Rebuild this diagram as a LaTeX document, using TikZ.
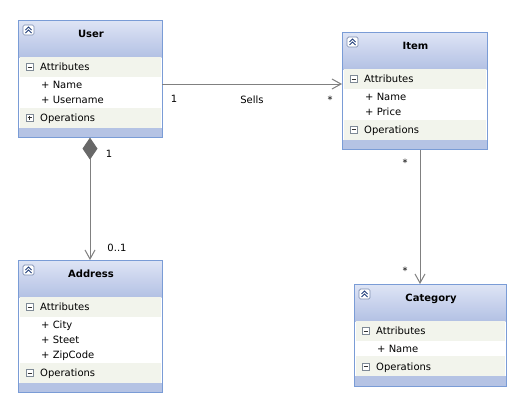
\documentclass[tikz,border=0pt]{standalone}
\usepackage{fontspec}
\setmainfont{DejaVu Sans}
\usetikzlibrary{arrows.meta,calc}
\definecolor{bord}{HTML}{7A9CD6}
\definecolor{hdtop}{HTML}{DEE4F5}
\definecolor{hdbot}{HTML}{B3C1E4}
\definecolor{band}{HTML}{F2F4EC}
\definecolor{foot}{HTML}{B5C3E4}
\definecolor{conn}{HTML}{808080}
\definecolor{diam}{HTML}{686868}
\definecolor{icon}{HTML}{23407C}
\definecolor{iconbd}{HTML}{7F8A96}
\tikzset{
  classbox/.style={draw=bord,line width=1pt,inner sep=0pt,outer sep=0pt,anchor=north west},
  txt/.style={font=\fontsize{10}{12}\selectfont,inner sep=0pt,anchor=base west},
  ctitle/.style={font=\fontsize{10}{12}\selectfont\bfseries,inner sep=0pt,anchor=base},
  lbl/.style={font=\fontsize{10}{12}\selectfont,inner sep=0pt,anchor=base},
  conn/.style={draw=conn,line width=1pt},
  barb/.tip={Straight Barb[length=9pt,width=10pt,line width=1pt]},
  sq/.style={draw=iconbd,line width=0.6pt,fill=white},
}
\newcommand\sqicon[3]{% x, y center, plus?
  \draw[sq] ({#1-3.5},{#2-3.5}) rectangle ({#1+3.5},{#2+3.5});
  \draw[black!80,line width=0.8pt] ({#1-2},{#2}) -- ({#1+2},{#2});
  \ifx#3p\draw[black!80,line width=0.8pt] ({#1},{#2-2}) -- ({#1},{#2+2});\fi
}
\newcommand\umlclass[8]{% name, x, y, w, title, nrows, attrs, ops icon (m/p)
  \pgfmathsetmacro\clsh{87+15.3*#6}%
  \pgfmathsetmacro\opsy{57+15.3*#6}%
  \pgfmathsetmacro\xr{#2+#4}%
  \shade[top color=hdtop,bottom color=hdbot] ({#2+0.5},{#3+0.5}) rectangle ({\xr-0.5},{#3+37});
  \fill[band] ({#2+1.5},{#3+37}) rectangle ({\xr-1.5},{#3+57});
  \fill[white] ({#2+1.5},{#3+57}) rectangle ({\xr-1.5},{#3+\opsy});
  \fill[band] ({#2+1.5},{#3+\opsy}) rectangle ({\xr-1.5},{#3+\opsy+20});
  \fill[foot] ({#2+0.5},{#3+\opsy+20}) rectangle ({\xr-0.5},{#3+\clsh-0.5});
  \node[classbox,minimum width=#4pt,minimum height=\clsh pt] (#1) at (#2,#3) {};
  % collapse icon
  \draw[draw=icon!60,fill=white,line width=0.7pt,rounded corners=1.5pt] ({#2+5},{#3+5}) rectangle ({#2+16},{#3+15});
  \draw[icon,line width=0.9pt] ({#2+7.5},{#3+10}) -- ({#2+10.5},{#3+7}) -- ({#2+13.5},{#3+10});
  \draw[icon,line width=0.9pt] ({#2+7.5},{#3+13}) -- ({#2+10.5},{#3+10}) -- ({#2+13.5},{#3+13});
  \node[ctitle] (#1-title) at ({#2+#4/2+1},{#3+17.7}) {#5};
  \sqicon{#2+11.5}{#3+47}{m}
  \node[txt] (#1-attrs) at ({#2+22},{#3+50.7}) {Attributes};
  \foreach \attr [count=\i] in {#7}
    \node[txt] (#1-a\i) at ({#2+23},{#3+57+15.3*\i-7.7+3.7}) {\attr};
  \sqicon{#2+11.5}{#3+\opsy+10}{#8}
  \node[txt] (#1-ops) at ({#2+22},{#3+\opsy+10+3.7}) {Operations};
}
\begin{document}
\begin{tikzpicture}[x=1pt,y=-1pt]
\useasboundingbox[fill=white] (0,0) rectangle (521,407);
\umlclass{user}{18}{20}{144}{User}{2}{+ Name,+ Username}{p}
\umlclass{item}{342}{32}{145}{Item}{2}{+ Name,+ Price}{m}
\umlclass{address}{18}{260}{144}{Address}{3}{+ City,+ Steet,+ ZipCode}{m}
\umlclass{category}{354}{284}{152}{Category}{1}{+ Name}{m}
% Sells
\draw[conn,-barb] ([yshift=-5.2pt]user.east) coordinate (s1) -- (s1 -| item.west);
\node[lbl] (l1) at (174,102) {1};
\node[lbl] (l2) at (252,103) {Sells};
\node[lbl] (l3) at (330,103) {*};
% composition
\draw[conn,{Diamond[length=22pt,width=15pt,fill=diam,color=diam]}-barb] (user.south) -- (address.north);
\node[lbl] (l4) at (109,157) {1};
\node[lbl] (l5) at (117,251) {0..1};
% item -> category
\draw[conn,-barb] ([xshift=5.5pt]item.south) coordinate (s3) -- (s3 |- category.north);
\node[lbl] (l6) at (405,166) {*};
\node[lbl] (l7) at (405,274) {*};
\end{tikzpicture}
\end{document}
